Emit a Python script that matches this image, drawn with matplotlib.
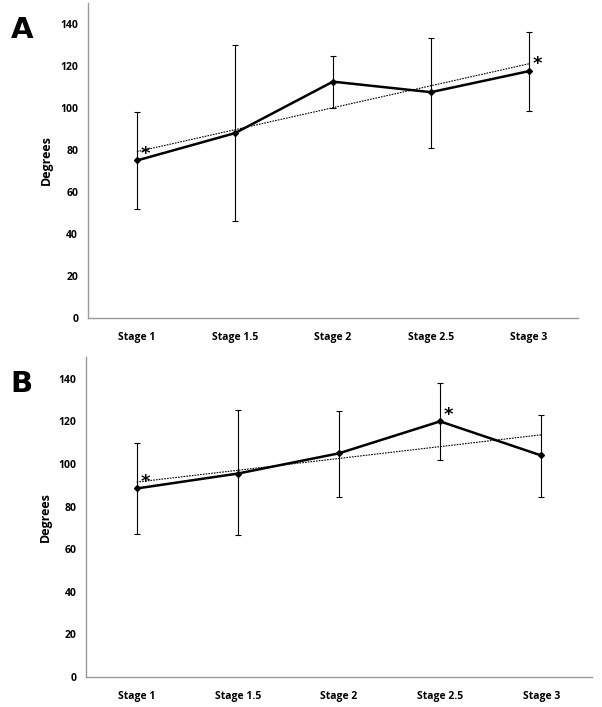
import matplotlib
matplotlib.use("Agg")
import matplotlib.pyplot as plt
import numpy as np

stages = ["Stage 1", "Stage 1.5", "Stage 2", "Stage 2.5", "Stage 3"]

# panel A
mean_a = [75, 88, 112.5, 107.5, 117.5]
low_a = [52, 46, 100, 81, 98.5]
high_a = [98, 130, 124.5, 133.5, 136]
star_a = [0, 4]

# panel B
mean_b = [88.5, 95.5, 105, 120, 104]
low_b = [67, 66.5, 84.5, 102, 84.5]
high_b = [110, 125.5, 125, 138, 123]
star_b = [0, 3]

plt.rcParams['font.family'] = ['Open Sans', 'DejaVu Sans']


def draw_panel(ax, means, lows, highs, stars):
    x = np.arange(len(stages))
    means = np.array(means)
    yerr = [means - np.array(lows), np.array(highs) - means]
    ax.errorbar(x, means, yerr=yerr, fmt='none', ecolor='black', elinewidth=0.8,
                capsize=2, capthick=0.8, zorder=2)
    # linear trend line
    k, b = np.polyfit(x, means, 1)
    ax.plot(x, k * x + b, linestyle=(0, (1.5, 1)), color='black', linewidth=0.8, zorder=3)
    ax.plot(x, means, color='black', linewidth=1.8, marker='D', markersize=3, zorder=4)
    for i in stars:
        ax.text(x[i] + 0.04, means[i] - 1.0, '*', fontsize=13, fontweight='bold',
                ha='left', va='bottom', family='DejaVu Sans')
    ax.set_xlim(-0.5, len(stages) - 0.5)
    ax.set_ylim(0, 150)
    ax.set_yticks(np.arange(0, 141, 20))
    ax.set_xticks(x)
    ax.set_xticklabels(stages)
    ax.tick_params(length=0, labelsize=7.5)
    for lab in ax.get_xticklabels() + ax.get_yticklabels():
        lab.set_fontweight('bold')
    ax.tick_params(axis='y', pad=7)
    ax.tick_params(axis='x', pad=10)
    for s in ['top', 'right']:
        ax.spines[s].set_visible(False)
    for s in ['left', 'bottom']:
        ax.spines[s].set_color('#999999')
        ax.spines[s].set_linewidth(1)
    ax.set_ylabel('Degrees', fontsize=9, fontweight='bold', labelpad=5)


fig = plt.figure(figsize=(6.02, 7.07), dpi=100)
ax1 = fig.add_axes([0.146, 0.550, 0.814, 0.446])
ax2 = fig.add_axes([0.143, 0.0424, 0.840, 0.452])
draw_panel(ax1, mean_a, low_a, high_a, star_a)
draw_panel(ax2, mean_b, low_b, high_b, star_b)

fig.text(0.018, 0.958, 'A', fontsize=21, fontweight='bold', va='center', ha='left', family='DejaVu Sans')
fig.text(0.018, 0.457, 'B', fontsize=21, fontweight='bold', va='center', ha='left', family='DejaVu Sans')

fig.savefig('out.png', dpi=100)
